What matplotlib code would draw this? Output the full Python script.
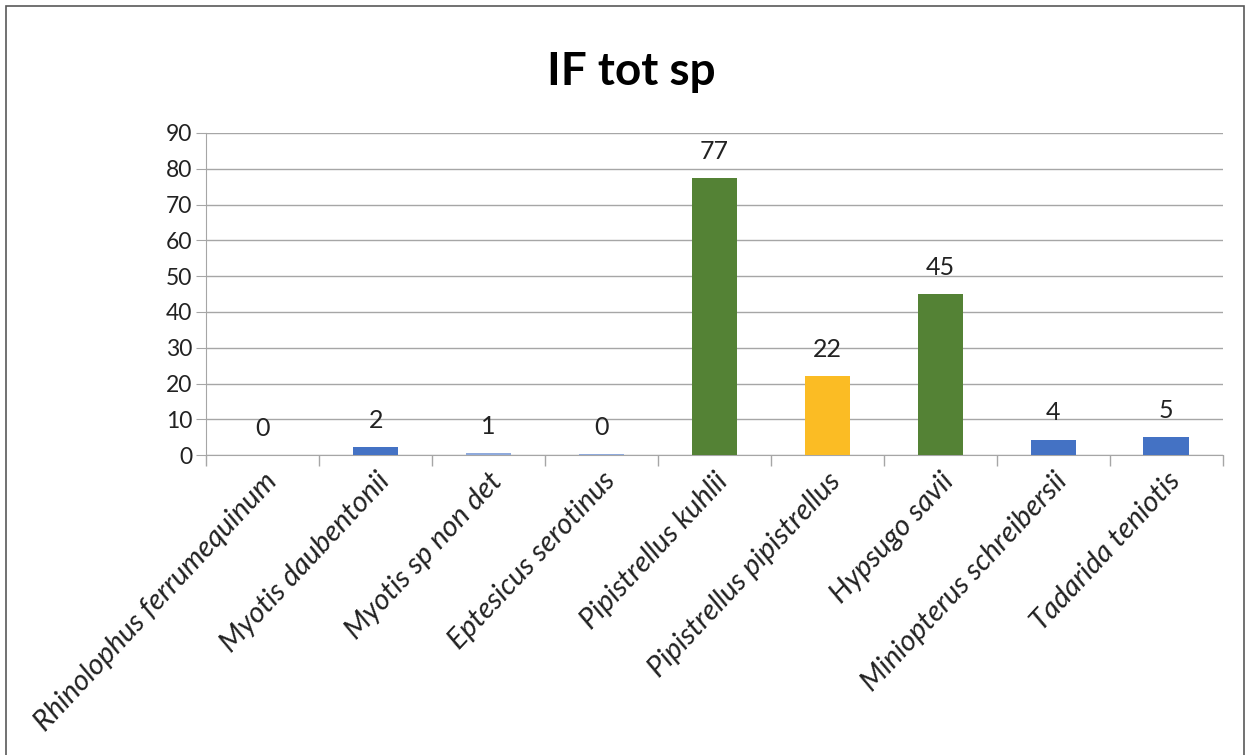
import matplotlib.pyplot as plt
from matplotlib.patches import Rectangle

species = ['Rhinolophus ferrumequinum', 'Myotis daubentonii', 'Myotis sp non det',
           'Eptesicus serotinus', 'Pipistrellus kuhlii', 'Pipistrellus pipistrellus',
           'Hypsugo savii', 'Miniopterus schreibersii', 'Tadarida teniotis']
values = [0.1, 2.3, 0.6, 0.4, 77.3, 22.1, 44.9, 4.4, 5.0]
colors = ['#4472C4', '#4472C4', '#8FAADC', '#8FAADC', '#548235', '#FBBC24',
          '#548235', '#4472C4', '#4472C4']
yticks = [0, 10, 20, 30, 40, 50, 60, 70, 80, 90]

plt.rcParams['font.family'] = ['Lato', 'DejaVu Sans']

fig = plt.figure(figsize=(12.5, 7.55), dpi=100)
fig.patches.append(Rectangle((0.005, -0.05), 0.99, 1.042, transform=fig.transFigure,
                             fill=False, edgecolor='#595959', linewidth=1.2))
ax = fig.add_axes([0.165, 0.397, 0.813, 0.427])

x = list(range(len(species)))
ax.bar(x, values, width=0.4, color=colors, zorder=3)
for xi, v in zip(x, values):
    ax.annotate(f'{v:.0f}', (xi, v), xytext=(0, 11), textcoords='offset points',
                ha='center', va='bottom', fontsize=18, color='#222222')

ax.set_xlim(-0.5, len(species) - 0.5)
ax.set_ylim(0, 90)
ax.set_yticks(yticks)
ax.tick_params(axis='y', length=7, color='#a6a6a6', labelsize=16.5, pad=3,
               labelcolor='#222222')
ax.yaxis.grid(True, color='#a6a6a6', linewidth=1.0, zorder=0)

ax.set_xticks(x)
ax.set_xticklabels(species, rotation=47, ha='right', rotation_mode='anchor',
                   fontsize=21, style='italic', color='#222222')
ax.tick_params(axis='x', length=0, pad=9)
ax.set_xticks([i - 0.5 for i in range(len(species) + 1)], minor=True)
ax.tick_params(axis='x', which='minor', length=8, color='#a6a6a6', width=1)

for s in ['top', 'right']:
    ax.spines[s].set_visible(False)
for s in ['left', 'bottom']:
    ax.spines[s].set_color('#a6a6a6')

fig.suptitle('IF tot sp', x=0.505, y=0.933, fontsize=33, fontweight='bold')

fig.savefig('out.png', dpi=100)
